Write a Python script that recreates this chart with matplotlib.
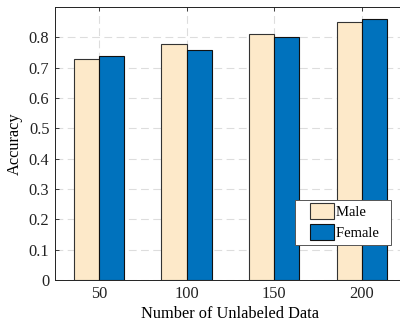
import numpy as np
import matplotlib.pyplot as plt
from matplotlib.patches import Rectangle
from matplotlib.container import BarContainer
from matplotlib.legend_handler import HandlerPatch, update_from_first_child

categories = ["50", "100", "150", "200"]
male = [0.73, 0.78, 0.81, 0.85]
female = [0.74, 0.76, 0.80, 0.86]
y_ticks = [0, 0.1, 0.2, 0.3, 0.4, 0.5, 0.6, 0.7, 0.8]

plt.rcParams["font.family"] = ["Liberation Serif", "DejaVu Serif"]
plt.rcParams["font.size"] = 11.8

fig = plt.figure(figsize=(4.0, 3.26), dpi=100)
ax = fig.add_axes([0.1375, 0.141, 0.877, 0.837])

x = np.arange(len(categories))
w = 0.286
ax.bar(x - w / 2, male, w, color="#FDE9C9", edgecolor="#333333", linewidth=0.8,
       label="Male", zorder=3)
ax.bar(x + w / 2, female, w, color="#0072BD", edgecolor="#111111", linewidth=0.8,
       label="Female", zorder=3)

ax.set_xlim(-0.5, len(categories) - 0.5)
ax.set_ylim(0, 0.9)
ax.set_xticks(x)
ax.set_xticklabels(categories)
ax.set_yticks(y_ticks)
ax.set_yticklabels([f"{v:g}" for v in y_ticks])
ax.tick_params(direction="in", length=3, top=True, right=True, width=0.6,
               colors="#222222", labelcolor="#222222", pad=4)
ax.grid(True, linestyle=(0, (7, 4)), color="#dddddd", linewidth=0.8, zorder=0)
for s in ax.spines.values():
    s.set_linewidth(0.7)
    s.set_color("#222222")

ax.set_xlabel("Number of Unlabeled Data", labelpad=3)
ax.set_ylabel("Accuracy", labelpad=4)


def boxed_patch(legend, orig_handle, xdescent, ydescent, width, height, fontsize):
    # leave some room on the left of the swatch, like the reference legend
    off = width * 0.29
    return Rectangle((-xdescent + off, -ydescent - 1.5), width - off, height + 3)


leg = ax.legend(loc="lower left", bbox_to_anchor=(0.683, 0.128), borderaxespad=0,
                fancybox=False, framealpha=1, edgecolor="#555555", fontsize=10.5,
                handlelength=2.33, handleheight=0.9, handletextpad=0.14,
                borderpad=0.35, labelspacing=0.45,
                handler_map={BarContainer: HandlerPatch(patch_func=boxed_patch,
                                                        update_func=update_from_first_child)})
leg.get_frame().set_linewidth(0.7)
for t in leg.get_texts():
    t.set_text(t.get_text() + "  ")

fig.savefig("out.png", dpi=100)
